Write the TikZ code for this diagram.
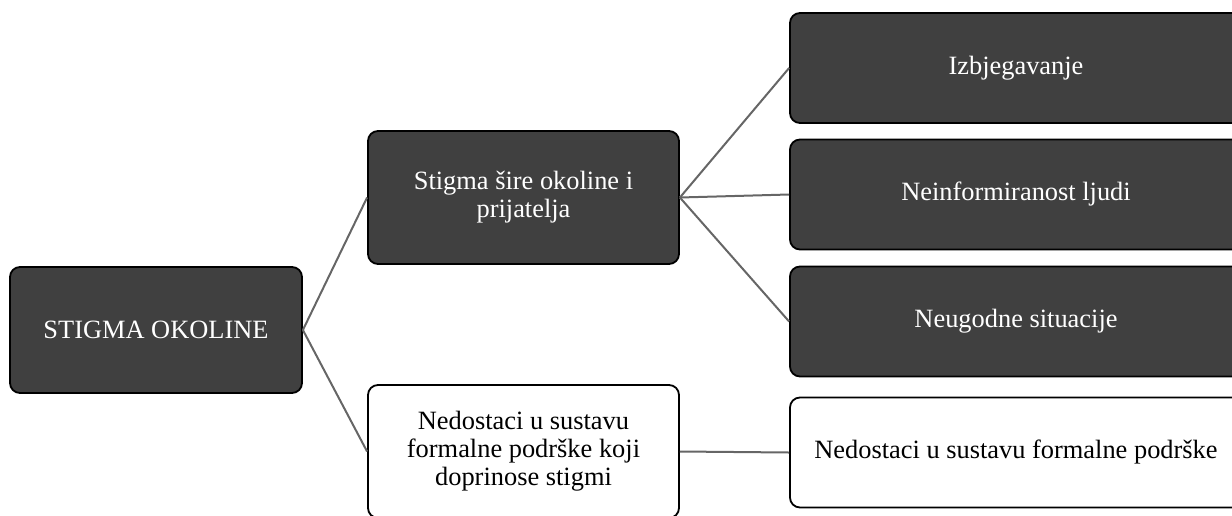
\documentclass[tikz,border=0pt]{standalone}
\usepackage{fontspec}
\setmainfont{Liberation Serif}
\usepackage{xcolor}
\usepackage{tikz}
\usetikzlibrary{calc}

\definecolor{boxgray}{HTML}{404040}
\definecolor{linkgray}{HTML}{666666}

\tikzset{
  darkbox/.style={draw=black,line width=1.35pt,fill=boxgray,text=white,
    rounded corners=7.5pt,align=center,inner sep=0pt,
    font=\fontsize{19.8}{21}\selectfont},
  lightbox/.style={darkbox,fill=white,text=black},
  link/.style={draw=linkgray,line width=1.5pt},
}

\begin{document}
\begin{tikzpicture}[x=0.75pt,y=-0.75pt]

\useasboundingbox (0,0) rectangle (1232,515);

% Root
\node[darkbox,minimum width=219pt,minimum height=94.5pt] (root) at (156,330) {STIGMA OKOLINE};

% Second level
\node[darkbox,minimum width=233.25pt,minimum height=99.75pt] (sire) at (523.5,197.5)
  {Stigma šire okoline i\\prijatelja};
\node[lightbox,minimum width=233.25pt,minimum height=99.75pt] (sustav) at (523.5,451.5)
  {Nedostaci u sustavu\\formalne podrške koji\\doprinose stigmi};

% Third level
\node[darkbox,minimum width=339pt,minimum height=82.5pt] (izbj) at (1016,68) {Izbjegavanje};
\node[darkbox,minimum width=339pt,minimum height=82.5pt] (neinf) at (1016,194.5) {Neinformiranost ljudi};
\node[darkbox,minimum width=339pt,minimum height=82.5pt] (neug) at (1016,321.5) {Neugodne situacije};
\node[lightbox,minimum width=339pt,minimum height=82.5pt] (nedost) at (1016,452.5) {Nedostaci u sustavu formalne podrške};

% Links
\draw[link] (root.east) -- (sire.west);
\draw[link] (root.east) -- (sustav.west);
\draw[link] (sire.east) -- (izbj.west);
\draw[link] (sire.east) -- (neinf.west);
\draw[link] (sire.east) -- (neug.west);
\draw[link] (sustav.east) -- (nedost.west);

\end{tikzpicture}
\end{document}
